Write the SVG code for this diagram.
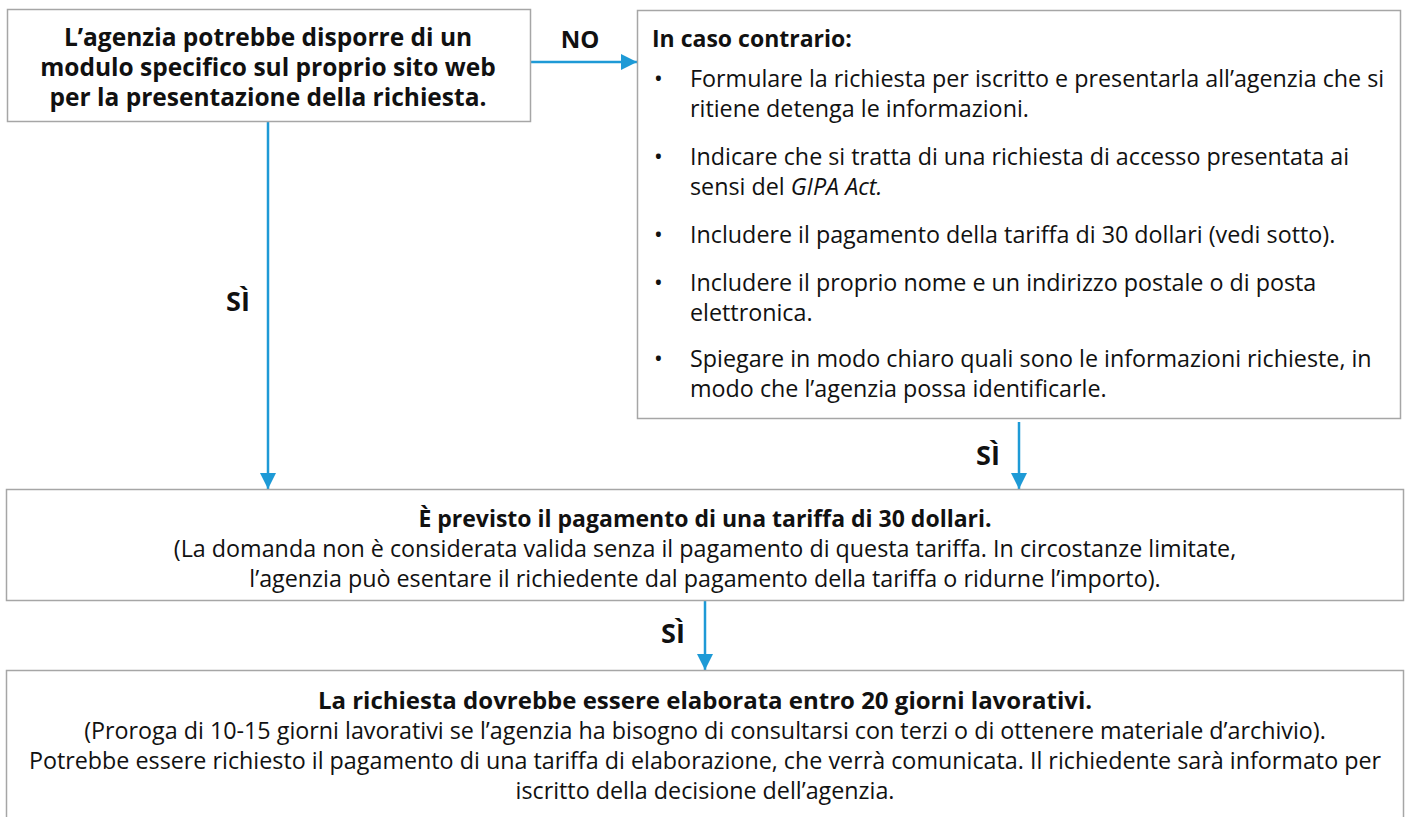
<svg xmlns="http://www.w3.org/2000/svg" width="1406" height="817" viewBox="0 0 1406 817">
<defs>
<style>
.box{fill:#fff;stroke:#a6a6a6;stroke-width:1.5}
.t{font-family:"Open Sans","Liberation Sans",Arial,sans-serif;font-size:23.3px;fill:#111}
.b{font-weight:bold;font-size:23px}
.b1{font-weight:bold;font-size:24.5px}
.b4{font-size:24px}
.c{text-anchor:middle}
.lbl{font-family:"Open Sans","Liberation Sans",Arial,sans-serif;font-size:24px;font-weight:bold;fill:#111}
.si{font-size:27px}
.conn{stroke:#1e9ad6;stroke-width:2.5;fill:none}
</style>
<marker id="ah" viewBox="0 0 10 10" refX="10" refY="5" markerUnits="userSpaceOnUse" markerWidth="19" markerHeight="16" orient="auto">
<path d="M0,0 L10,5 L0,10 z" fill="#1e9ad6"/>
</marker>
</defs>
<g id="connectors">
<line class="conn" x1="531" y1="62" x2="637" y2="62" marker-end="url(#ah)"/>
<line class="conn" x1="268" y1="122" x2="268" y2="489" marker-end="url(#ah)"/>
<line class="conn" x1="1019" y1="422" x2="1019" y2="489" marker-end="url(#ah)"/>
<line class="conn" x1="705" y1="601" x2="705" y2="670" marker-end="url(#ah)"/>
<text class="lbl c" x="580" y="48">NO</text>
<text class="lbl si c" x="238" y="311">SÌ</text>
<text class="lbl si c" x="988" y="465">SÌ</text>
<text class="lbl si c" x="673" y="643">SÌ</text>
</g>
<g id="node1">
<rect class="box" x="7.5" y="9.5" width="523" height="112"/>
<text class="t b1 c" x="268" y="46">L’agenzia potrebbe disporre di un</text>
<text class="t b1 c" x="268" y="76">modulo specifico sul proprio sito web</text>
<text class="t b1 c" x="268" y="106">per la presentazione della richiesta.</text>
</g>
<g id="node2">
<rect class="box" x="637.5" y="10.5" width="763" height="408"/>
<text class="t b" x="652" y="47">In caso contrario:</text>
<text class="t" x="654" y="87">•</text>
<text class="t" x="690" y="87">Formulare la richiesta per iscritto e presentarla all’agenzia che si</text>
<text class="t" x="690" y="117">ritiene detenga le informazioni.</text>
<text class="t" x="654" y="165">•</text>
<text class="t" x="690" y="165">Indicare che si tratta di una richiesta di accesso presentata ai</text>
<text class="t" x="690" y="195">sensi del <tspan font-style="italic">GIPA Act.</tspan></text>
<text class="t" x="654" y="243">•</text>
<text class="t" x="690" y="243">Includere il pagamento della tariffa di 30 dollari (vedi sotto).</text>
<text class="t" x="654" y="291">•</text>
<text class="t" x="690" y="291">Includere il proprio nome e un indirizzo postale o di posta</text>
<text class="t" x="690" y="321">elettronica.</text>
<text class="t" x="654" y="367">•</text>
<text class="t" x="690" y="367">Spiegare in modo chiaro quali sono le informazioni richieste, in</text>
<text class="t" x="690" y="397">modo che l’agenzia possa identificarle.</text>
</g>
<g id="node3">
<rect class="box" x="6.5" y="489.5" width="1397" height="111"/>
<text class="t b c" x="705" y="527">È previsto il pagamento di una tariffa di 30 dollari.</text>
<text class="t c" x="705" y="557">(La domanda non è considerata valida senza il pagamento di questa tariffa. In circostanze limitate,</text>
<text class="t c" x="705" y="587">l’agenzia può esentare il richiedente dal pagamento della tariffa o ridurne l’importo).</text>
</g>
<g id="node4">
<rect class="box" x="6.5" y="670.5" width="1397" height="160"/>
<text class="t b b4 c" x="705" y="709">La richiesta dovrebbe essere elaborata entro 20 giorni lavorativi.</text>
<text class="t c" x="705" y="739">(Proroga di 10-15 giorni lavorativi se l’agenzia ha bisogno di consultarsi con terzi o di ottenere materiale d’archivio).</text>
<text class="t c" x="705" y="769">Potrebbe essere richiesto il pagamento di una tariffa di elaborazione, che verrà comunicata. Il richiedente sarà informato per</text>
<text class="t c" x="705" y="799">iscritto della decisione dell’agenzia.</text>
</g>
</svg>
